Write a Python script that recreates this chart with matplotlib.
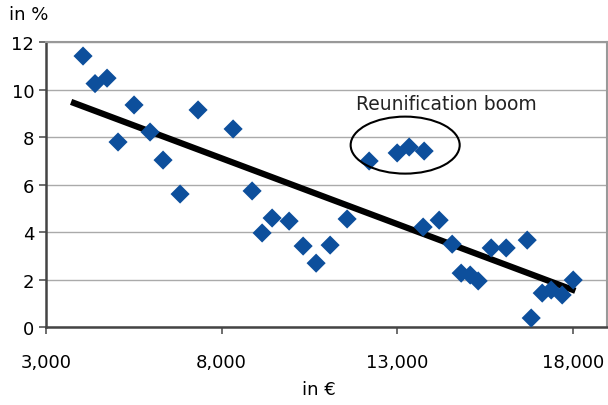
import numpy as np
import matplotlib
matplotlib.use("Agg")
import matplotlib.pyplot as plt
from matplotlib.patches import Ellipse

# GDP per capita (EUR) vs. growth / unemployment (%)
gdp = [4054, 4396, 4738, 5051, 5507, 5963, 6333, 6818, 7330, 8328,
       8869, 9154, 9439, 9923, 10322, 10692, 11091, 11575, 12202, 13000,
       13342, 13769, 13740, 14196, 14567, 14823, 15080, 15308, 15678, 16105,
       16704, 16818, 17131, 17387, 17700, 18014]
rate = [11.41, 10.25, 10.48, 7.79, 9.35, 8.21, 7.03, 5.60, 9.14, 8.34,
        5.73, 3.96, 4.59, 4.46, 3.41, 2.69, 3.45, 4.55, 6.99, 7.33,
        7.58, 7.41, 4.21, 4.50, 3.49, 2.27, 2.19, 1.94, 3.33, 3.33,
        3.66, 0.38, 1.43, 1.56, 1.35, 1.98]

xticks = [3000, 8000, 13000, 18000]
yticks = [0, 2, 4, 6, 8, 10, 12]

blue = "#0d4f9c"

plt.rcParams['font.family'] = ['DejaVu Sans']
fig = plt.figure(figsize=(6.08, 4.06), dpi=100)
ax = fig.add_axes([0.0757, 0.192, 0.9223, 0.702])

gdp_a = np.array(gdp)
slope, icpt = np.polyfit(gdp_a, np.array(rate), 1)
tx = np.array([gdp_a.min() - 340, gdp_a.max() + 60])
ax.plot(tx, slope * tx + icpt, color="black", lw=4.5, solid_capstyle="butt", zorder=3)

ax.scatter(gdp, rate, marker="D", s=95, color=blue, edgecolors="none", zorder=4)

ell = Ellipse((13228, 7.66), 3105, 2.4, fill=False, edgecolor="black", lw=1.5, zorder=5)
ax.add_patch(ell)
ax.text(14396, 9.43, "Reunification boom", ha="center", va="center", fontsize=13.5, color="#222222")

ax.set_xlim(3000, 18970)
ax.set_ylim(0, 12)
ax.set_xticks(xticks)
ax.set_xticklabels([f"{v:,}" for v in xticks])
ax.set_yticks(yticks)
ax.tick_params(axis="both", labelsize=13, direction="out", length=5, width=1.2, color="#555555")
ax.tick_params(axis="x", pad=14)
ax.grid(axis="y", color="#aaaaaa", lw=1)
ax.set_axisbelow(True)
for s in ["left", "bottom"]:
    ax.spines[s].set_color("#444444")
    ax.spines[s].set_linewidth(1.8)
for s in ["top", "right"]:
    ax.spines[s].set_color("#999999")
    ax.spines[s].set_linewidth(1.5)

fig.text(0.015, 0.962, "in %", fontsize=13, va="center", ha="left")
fig.text(0.497, 0.04, "in €", fontsize=13, va="center", ha="left")

fig.savefig("out.png", dpi=100)
